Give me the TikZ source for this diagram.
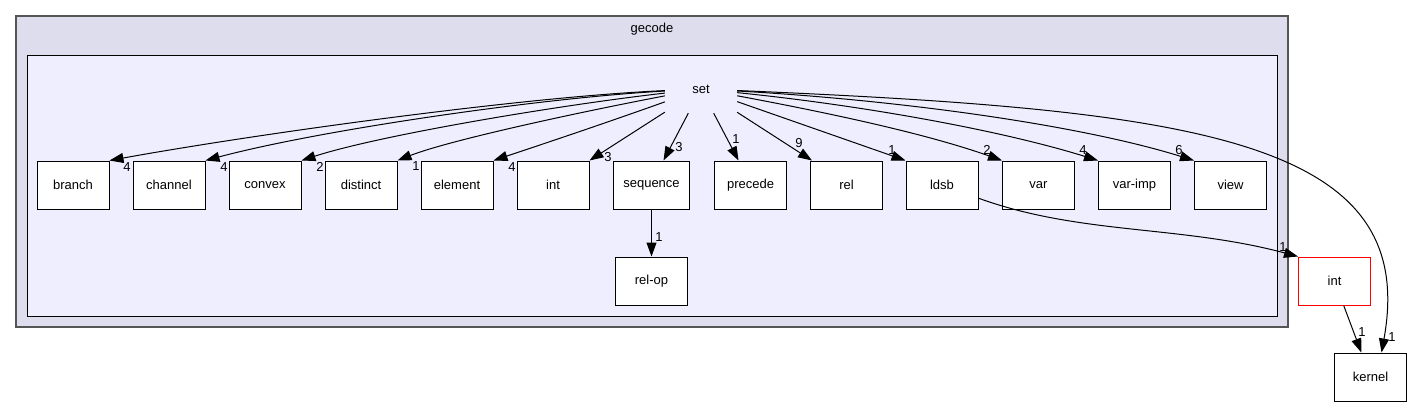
\documentclass[tikz,border=0pt]{standalone}
\usepackage{fontspec}
\setmainfont{Liberation Sans}
\usetikzlibrary{arrows.meta}
\definecolor{outerbg}{HTML}{DDDDEE}
\definecolor{innerbg}{HTML}{EEEEFF}
\definecolor{outerline}{HTML}{555555}
\definecolor{extline}{HTML}{FF0000}

\begin{document}
\begin{tikzpicture}[
    x=1pt, y=-1pt,
    font=\fontsize{13}{15}\selectfont,
    dir/.style={draw=black, fill=white, line width=1pt, minimum width=72pt, minimum height=48pt, inner xsep=10pt},
    dep/.style={line width=1pt, -{Triangle[length=14pt,width=10pt]}},
    num/.style={inner sep=0pt},
    ]
    \useasboundingbox (0,0) rectangle (1412,407);
    \draw[outerline, fill=outerbg, line width=2pt] (16,16) rectangle (1288,327);
    \node (gecode) at (652,29) {gecode};
    \draw[black, fill=innerbg, line width=1pt] (27,55) rectangle (1277,316);
    \node[minimum width=72pt, minimum height=48pt] (set) at (701,89) {set};

    \node at (73,185) [dir](branch){branch};
    \node at (169,185) [dir](channel){channel};
    \node at (265,185) [dir](convex){convex};
    \node at (361,185) [dir](distinct){distinct};
    \node at (457,185) [dir](element){element};
    \node at (553,185) [dir](sint){int};
    \node at (651.5,185) [dir](sequence){sequence};
    \node at (750.5,185) [dir](precede){precede};
    \node at (846.5,185) [dir](rel){rel};
    \node at (942,185) [dir](ldsb){ldsb};
    \node at (1038.5,185) [dir](var){var};
    \node at (1134.5,185) [dir](varimp){var-imp};
    \node at (1230.5,185) [dir](view){view};
    \node at (651.5,281) [dir](relop){rel-op};
    \node at (1334.5,281) [dir, draw=extline](int){int};
    \node at (1370.5,377) [dir](kernel){kernel};

    \draw[dep] (set) .. controls (520,97) and (250,135) .. (branch.north east);
    \draw[dep] (set) .. controls (540,98) and (320,130) .. (channel.north east);
    \draw[dep] (set) .. controls (560,105) and (380,135) .. (convex.north east);
    \draw[dep] (set) .. controls (580,112) and (450,140) .. (distinct.north east);
    \draw[dep] (set) .. controls (600,125) and (540,145) .. (element.north east);
    \draw[dep] (set) -- (sint.north east);
    \draw[dep] (set) -- ([xshift=12pt]sequence.north);
    \draw[dep] (set) -- ([xshift=-12pt]precede.north);
    \draw[dep] (set) -- ([xshift=2pt]rel.north west);
    \draw[dep] (set) -- (ldsb.north west);
    \draw[dep] (set) .. controls (840,115) and (930,135) .. (var.north west);
    \draw[dep] (set) .. controls (860,105) and (1000,130) .. (varimp.north west);
    \draw[dep] (set) .. controls (900,100) and (1080,125) .. (view.north west);
    \draw[dep] (set) .. controls (1200,110) and (1420,140) .. ([xshift=11pt]kernel.north);
    \draw[dep] (sequence) -- (relop);
    \draw[dep] (ldsb) .. controls (1080,235) and (1180,225) .. (int.north west);
    \draw[dep] (int) -- (kernel);

    % edge counts
    \node[num] (n-branch) at (127,167) {4};
    \node[num] (n-channel) at (224,167) {4};
    \node[num] (n-convex) at (320,167) {2};
    \node[num] (n-distinct) at (416,166) {1};
    \node[num] (n-element) at (512,167) {4};
    \node[num] (n-sint) at (608,157) {3};
    \node[num] (n-sequence) at (679,147) {3};
    \node[num] (n-precede) at (736,139) {1};
    \node[num] (n-rel) at (799,143) {9};
    \node[num] (n-ldsb) at (892,150) {1};
    \node[num] (n-var) at (987,150) {2};
    \node[num] (n-varimp) at (1083,150) {4};
    \node[num] (n-view) at (1179,150) {6};
    \node[num] (n-relop) at (659,237) {1};
    \node[num] (n-int) at (1283,247) {1};
    \node[num] (n-kernel1) at (1362,332) {1};
    \node[num] (n-kernel2) at (1392,337) {1};
\end{tikzpicture}
\end{document}
